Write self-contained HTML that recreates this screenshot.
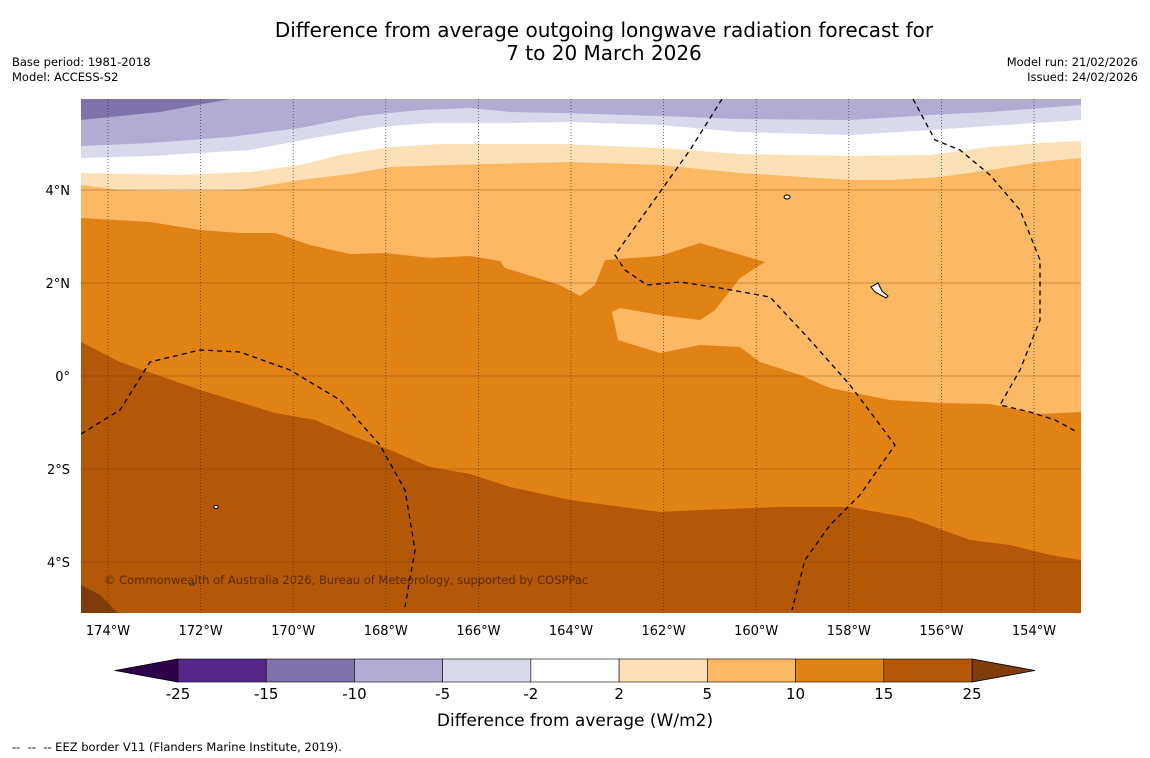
<!DOCTYPE html>
<html><head><meta charset="utf-8"><style>
body{margin:0;background:#fff;font-family:"Liberation Sans","DejaVu Sans",sans-serif;}
#wrap{position:relative;width:1150px;height:758px;overflow:hidden;background:#fff}
.t{position:absolute;color:#000}
</style></head><body>
<div id="wrap">
<div class="t" style="left:0;width:1208px;top:19px;text-align:center;font-size:20px;line-height:23px;font-family:'DejaVu Sans',sans-serif">Difference from average outgoing longwave radiation forecast for<br>7 to 20 March 2026</div>
<div class="t" style="left:12px;top:55px;font-size:11.5px;line-height:15px;font-family:'DejaVu Sans',sans-serif">Base period: 1981-2018<br>Model: ACCESS-S2</div>
<div class="t" style="right:12px;top:55px;font-size:11.5px;line-height:15px;text-align:right;font-family:'DejaVu Sans',sans-serif">Model run: 21/02/2026<br>Issued: 24/02/2026</div>
<div class="t" style="left:12px;top:740px;font-size:11.5px;font-family:'DejaVu Sans',sans-serif">--&nbsp; --&nbsp; -- EEZ border V11 (Flanders Marine Institute, 2019).</div>
<svg id="svg" width="1150" height="758" style="position:absolute;left:0;top:0" font-family="DejaVu Sans, Liberation Sans, sans-serif">
<defs><clipPath id="mc"><rect x="81" y="99" width="1000" height="514"/></clipPath></defs>
<g id="map" clip-path="url(#mc)">
<rect x="81" y="99" width="1000" height="514" fill="#b35806"/>
<polygon fill="#7f3b08" points="81,585 100,595 118,613 81,613"/>
<polygon fill="#e08214" points="81,99 1081,99 1081,560 1050,555 1010,545 970,540 910,518 850,507 780,507 700,510 660,512 570,500 510,487 470,474 430,467 390,450 350,435 315,420 275,413 200,390 120,362 81,342"/>
<polygon fill="#fdb863" points="81,99 1081,99 1081,412 1040,414 990,404 940,403 890,400 860,394 830,388 800,375 760,362 740,347 700,345 660,353 618,340 612,312 620,308 660,315 700,320 715,310 740,278 765,262 700,243 660,256 605,260 595,285 580,296 560,285 505,268 500,261 470,256 430,258 385,253 350,254 310,245 275,233 240,233 200,230 150,222 81,218"/>
<polygon fill="#fee0b6" points="81,99 1081,99 1081,158 1040,162 990,170 940,177 890,180 850,180 740,173 660,165 570,162 450,165 390,167 350,174 300,180 240,190 180,191 120,190 81,185"/>
<polygon fill="#ffffff" points="81,99 1081,99 1081,141 1040,143 990,147 930,155 850,156 740,154 660,148 560,144 440,144 390,147 340,155 300,165 250,172 180,175 81,173"/>
<polygon fill="#d8daeb" points="81,99 1081,99 1081,120 990,126 930,130 850,135 740,132 660,125 570,122 510,123 430,123 380,127 330,135 250,150 150,156 81,158"/>
<polygon fill="#b2abd2" points="81,99 1081,99 1081,105 990,112 930,115 850,120 740,119 660,116 560,113 510,112 470,108 420,110 360,116 300,128 230,137 150,143 81,146"/>
<polygon fill="#8073ac" points="81,99 230,99 160,112 81,120"/>
<g id="grid"></g>
<g fill="none" stroke="#000" stroke-width="1.3" stroke-dasharray="5,4">
<polyline points="81,434 120,410 150,362 200,350 240,352 290,370 340,400 380,445 405,490 415,550 405,607"/>
<polyline points="722,99 690,150 640,220 615,255 625,270 647,285 680,282 720,288 770,297 810,340 850,385 895,445 860,495 830,525 805,560 792,610"/>
<polyline points="913,99 935,140 960,150 990,175 1020,210 1040,260 1040,320 1020,370 1000,405 1030,412 1055,420 1077,432"/>
</g>
<g fill="#fff" stroke="#000">
<ellipse cx="787" cy="197" rx="3" ry="2"/><path d="M871,287 L878,283 L882,291 L888,296 L886,298 L875,292 Z"/>
<ellipse cx="216" cy="507" rx="2" ry="1.5"/><ellipse cx="192" cy="584" rx="2" ry="1"/>
</g>
<text x="104" y="584" font-size="11.5" fill="#5a2a04">© Commonwealth of Australia 2026, Bureau of Meteorology, supported by COSPPac</text>
</g>
<g id="axes" font-size="13"></g>
<g id="cbar"></g>
<text x="575" y="726" text-anchor="middle" font-size="17">Difference from average (W/m2)</text>
</svg>
</div>
<script>
const lonTicks=[-174,-172,-170,-168,-166,-164,-162,-160,-158,-156,-154];
const latTicks=[4,2,0,-2,-4];
const levels=[-25,-15,-10,-5,-2,2,5,10,15,25];
const colors=["#542788","#8073ac","#b2abd2","#d8daeb","#ffffff","#fee0b6","#fdb863","#e08214","#b35806"];
const NS="http://www.w3.org/2000/svg";
function xOf(lon){return 108+(lon+174)*46.3;}
function yOf(lat){return 376-lat*46.5;}
function mk(t,a,p){const e=document.createElementNS(NS,t);for(const k in a)e.setAttribute(k,a[k]);p.appendChild(e);return e;}
const grid=document.getElementById('grid'),axes=document.getElementById('axes');
lonTicks.forEach(l=>{const x=xOf(l);
const ln=mk('line',{x1:x,x2:x,y1:99,y2:613,stroke:'#333','stroke-width':0.7,'stroke-dasharray':'1,2'},grid);

const t=mk('text',{x:x,y:635,'text-anchor':'middle'},axes);t.textContent=Math.abs(l)+'°W';
});
latTicks.forEach(l=>{const y=yOf(l);
const ln=mk('line',{x1:81,x2:1081,y1:y,y2:y,stroke:'#6a3a10','stroke-width':0.6,opacity:0.7},grid);

const t=mk('text',{x:70,y:y+5,'text-anchor':'end'},axes);t.textContent=l===0?'0°':Math.abs(l)+'°'+(l>0?'N':'S');
});
const cb=document.getElementById('cbar');const x0=178,x1=972,w=(x1-x0)/colors.length;
const lt=mk('polygon',{points:`115,670.5 ${x0},659 ${x0},682`,fill:'#2d004b',stroke:'#000','stroke-width':0.8},cb);

const rt=mk('polygon',{points:`1035,670.5 ${x1},659 ${x1},682`,fill:'#7f3b08',stroke:'#000','stroke-width':0.8},cb);

for(let i=0;i<colors.length;i++){
const r=mk('rect',{x:x0+i*w,y:659,width:w,height:23,fill:colors[i],stroke:'#000','stroke-width':0.6},cb);
}
for(let i=0;i<levels.length;i++){const x=x0+i*w;
const t=mk('text',{x:x,y:699,'text-anchor':'middle','font-size':15},cb);t.textContent=levels[i];
}
</script>
</body></html>
